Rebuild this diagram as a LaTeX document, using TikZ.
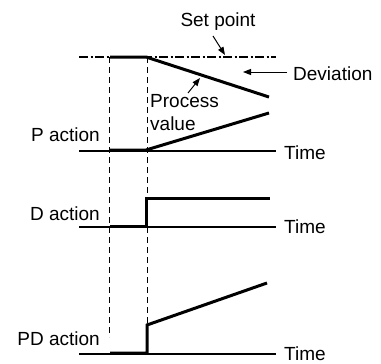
\documentclass[tikz,border=0pt]{standalone}
\usepackage{fontspec}
\setmainfont{Liberation Sans}
\usetikzlibrary{arrows.meta, positioning, calc}

\begin{document}
\begin{tikzpicture}[
    x=1pt, y=-1pt,
    label/.style={font=\fontsize{19}{23}\selectfont, inner sep=0pt},
    axis/.style={line width=1.5pt},
    signal/.style={line width=3pt, line join=miter},
    guide/.style={line width=1pt, dash pattern=on 6pt off 4pt},
    setline/.style={line width=1.5pt, dash pattern=on 9pt off 2.5pt on 2pt off 2.5pt},
    pointer/.style={-{Triangle[length=8pt, width=6pt]}, line width=1pt}
]
    \useasboundingbox (0,0) rectangle (381,364);

    % Guide lines at the two instants
    \draw[guide] (109.5,57) -- (109.5,337);
    \draw[guide] (147,57) -- (147,323);

    % Set point and process value
    \draw[setline] (79,57) -- (276,57);
    \draw[signal] (110,57) -- (146,57) -- (269,97);
    \node[label, anchor=base] (setpt) at (218,27) {Set point};
    \node[label, anchor=base west] (dev) at (293,80) {Deviation};
    \node[label, anchor=base west, align=left] (pv) at (150,130) {Process\\value};
    \coordinate (setpttail) at (213,36);
    \coordinate (setpthead) at (225,55);
    \coordinate (devtail) at (287,72);
    \coordinate (devhead) at (243,72);
    \coordinate (pvtail) at (188,93);
    \coordinate (pvhead) at (200,78);
    \draw[pointer] (setpttail) -- (setpthead);
    \draw[pointer] (devtail) -- (devhead);
    \draw[pointer] (pvtail) -- (pvhead);

    % P action
    \draw[axis] (79,151) -- (276,151);
    \draw[signal] (110,150) -- (146,150) -- (269,113);
    \node[label, anchor=base east] (pact) at (100,141) {P action};
    \node[label, anchor=base west] (ptime) at (284,159) {Time};

    % D action
    \draw[axis] (79,227) -- (276,227);
    \draw[signal] (110,226) -- (146,226) -- (146,198) -- (270,198);
    \node[label, anchor=base east] (dact) at (100,220) {D action};
    \node[label, anchor=base west] (dtime) at (284,233) {Time};

    % PD action
    \draw[axis] (79,354) -- (276,354);
    \draw[signal] (110,353) -- (147,353) -- (147,325) -- (267,283);
    \node[label, anchor=base east] (pdact) at (100,345) {PD action};
    \node[label, anchor=base west] (pdtime) at (284,360) {Time};
\end{tikzpicture}
\end{document}
